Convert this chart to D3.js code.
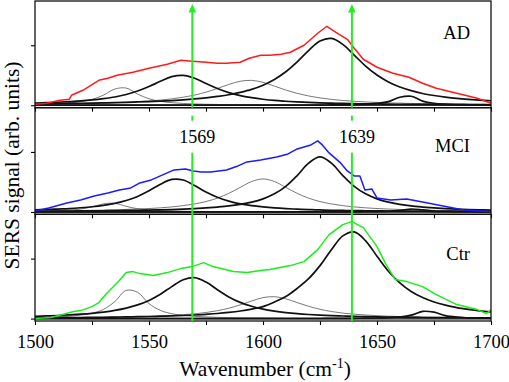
<!DOCTYPE html>
<html>
<head>
<meta charset="utf-8">
<script src="https://cdn.jsdelivr.net/npm/d3@7"></script>
<style>
  body { margin: 0; background: #fff; }
  svg { display: block; }
  text { font-family: "Liberation Serif", "Times New Roman", serif; fill: #000; }
</style>
</head>
<body>
<svg id="chart" width="509" height="382"></svg>
<script>
// x grid used by the fitted components (cm-1)
const waveGrid = [1500, 1505, 1510, 1515, 1520, 1525, 1530, 1535, 1540, 1545, 1550, 1555, 1560, 1565, 1570, 1575, 1580, 1585, 1590, 1595, 1600,
  1605, 1610, 1615, 1620, 1625, 1630, 1635, 1640, 1645, 1650, 1655, 1660, 1665, 1670, 1675, 1680, 1685, 1690, 1695, 1700];

// measured spectra
const adWave = [1500, 1505, 1511, 1515, 1516, 1521, 1528, 1532, 1536, 1543, 1550, 1558, 1564, 1569, 1575, 1580, 1584, 1590, 1594, 1599,
  1603, 1608, 1612, 1618, 1620, 1624, 1628, 1632, 1637, 1640, 1644, 1650, 1657, 1664, 1670, 1676, 1685, 1694, 1700];
const adSignal = [1, 2, 5, 6, 10, 15, 25, 27, 30, 33, 37, 41, 45, 44, 43, 42, 42, 43, 47, 50,
  50, 51, 53, 60, 64, 72, 79, 73, 66, 57, 46, 38, 32, 28, 22, 17, 12, 7, 2];

const mciWave = [1500, 1506, 1514, 1520, 1526, 1532, 1537, 1542, 1546, 1551, 1555, 1561, 1566, 1569.5, 1573, 1577, 1584, 1589, 1593, 1599,
  1606, 1611, 1615, 1621, 1624, 1626, 1629, 1634, 1637, 1640, 1642.5, 1644.7, 1647.7, 1650, 1656, 1663, 1670, 1679, 1688, 1700];
const mciSignal = [1, 4, 9, 12, 16, 19, 22, 24, 29, 32, 36, 42, 43, 41, 40, 40, 42, 46, 50, 52,
  55, 58, 63, 67, 71, 67, 59, 49, 41, 36, 36, 22, 23, 14, 12, 13, 10, 6, 2, 0.5];

const ctrWave = [1500, 1507, 1512, 1517, 1520, 1525, 1528, 1531, 1534, 1537, 1540, 1543, 1546, 1552, 1558, 1564, 1569, 1574, 1578, 1587,
  1593, 1599, 1603, 1612, 1618, 1624, 1629, 1635, 1639, 1644, 1650, 1654, 1658, 1663, 1670, 1676, 1685, 1694, 1698, 1700];
const ctrSignal = [0, 1, 4, 7, 8, 12, 16, 24, 31, 38, 46, 47, 45, 43, 46, 50, 52, 56, 52, 47,
  46, 48, 49, 53, 57, 69, 84, 94, 97, 91, 72, 54, 39, 37, 32, 24, 14, 9, 5, 9];

// fitted bands, sampled on waveGrid
const adFit1538 = [1.0, 1.2, 1.7, 2.4, 3.6, 5.8, 10.1, 16.2, 17.2, 11.2, 6.5, 3.9, 2.6, 1.8, 1.3, 1.0, 0.8, 0.6, 0.5, 0.4, 0.4,
  0.3, 0.3, 0.2, 0.2, 0.2, 0.2, 0.2, 0.1, 0.1, 0.1, 0.1, 0.1, 0.1, 0.1, 0.1, 0.1, 0.1, 0.1, 0.1, 0.1];
const adFit1564 = [2.2, 2.6, 3.0, 3.6, 4.3, 5.3, 6.6, 8.3, 10.8, 14.2, 18.7, 24.0, 28.6, 29.9, 27.0, 21.8, 16.8, 12.7, 9.7, 7.6, 6.0,
  4.8, 4.0, 3.3, 2.8, 2.4, 2.1, 1.8, 1.6, 1.4, 1.3, 1.1, 1.0, 0.9, 0.8, 0.8, 0.7, 0.6, 0.6, 0.6, 0.5];
const adFit1594 = [1.1, 1.2, 1.3, 1.5, 1.7, 1.9, 2.2, 2.6, 3.0, 3.6, 4.3, 5.2, 6.4, 8.1, 10.2, 13.1, 16.8, 20.8, 24.0, 24.9, 22.9,
  19.2, 15.2, 11.9, 9.3, 7.3, 5.9, 4.8, 4.0, 3.3, 2.8, 2.4, 2.1, 1.8, 1.6, 1.4, 1.3, 1.2, 1.0, 0.9, 0.9];
const adFit1629 = [1.4, 1.5, 1.7, 1.8, 2.0, 2.2, 2.4, 2.6, 2.9, 3.3, 3.7, 4.1, 4.7, 5.4, 6.3, 7.4, 8.8, 10.5, 12.9, 15.9, 20.1,
  25.8, 33.5, 43.4, 54.7, 64.2, 66.8, 60.9, 50.2, 39.2, 30.2, 23.3, 18.3, 14.6, 11.8, 9.8, 8.2, 6.9, 5.9, 5.1, 4.5];
const adFit1663 = [0.1, 0.1, 0.1, 0.1, 0.1, 0.1, 0.1, 0.1, 0.1, 0.1, 0.1, 0.1, 0.1, 0.1, 0.1, 0.1, 0.1, 0.1, 0.1, 0.1, 0.1,
  0.1, 0.1, 0.2, 0.2, 0.2, 0.3, 0.4, 0.6, 1.0, 1.8, 3.6, 8.0, 9.0, 4.2, 2.0, 1.1, 0.7, 0.5, 0.3, 0.3];

const mciFit1533 = [0.6, 0.8, 1.2, 1.8, 2.9, 5.0, 8.1, 8.6, 5.6, 3.2, 2.0, 1.3, 0.9, 0.7, 0.5, 0.4, 0.3, 0.3, 0.2, 0.2, 0.2,
  0.1, 0.1, 0.1, 0.1, 0.1, 0.1, 0.1, 0.1, 0.1, 0.1, 0.1, 0.1, 0.1, 0.1, 0.1, 0.1, 0.1, 0.1, 0.1, 0.1];
const mciFit1562 = [2.1, 2.4, 2.9, 3.4, 4.2, 5.2, 6.6, 8.6, 11.4, 15.5, 21.1, 27.7, 32.5, 31.9, 26.4, 19.9, 14.6, 10.8, 8.1, 6.3, 5.0,
  4.0, 3.3, 2.8, 2.3, 2.0, 1.7, 1.5, 1.3, 1.2, 1.1, 0.9, 0.9, 0.8, 0.7, 0.6, 0.6, 0.5, 0.5, 0.5, 0.4];
const mciFit1600 = [0.9, 1.0, 1.1, 1.3, 1.4, 1.6, 1.8, 2.1, 2.5, 2.9, 3.4, 4.1, 5.0, 6.3, 8.0, 10.4, 13.8, 18.6, 24.5, 30.4, 33.0,
  30.4, 24.5, 18.6, 13.8, 10.4, 8.0, 6.3, 5.0, 4.1, 3.4, 2.9, 2.5, 2.1, 1.8, 1.6, 1.4, 1.3, 1.1, 1.0, 0.9];
const mciFit1625 = [0.7, 0.7, 0.8, 0.9, 1.0, 1.1, 1.2, 1.3, 1.5, 1.6, 1.9, 2.1, 2.4, 2.8, 3.3, 4.0, 4.9, 6.0, 7.6, 9.8, 13.1,
  18.1, 25.6, 36.4, 48.8, 55.0, 48.8, 36.4, 25.6, 18.1, 13.1, 9.8, 7.6, 6.0, 4.9, 4.0, 3.3, 2.8, 2.4, 2.1, 1.9];
const mciFit1666 = [0.1, 0.1, 0.1, 0.1, 0.1, 0.1, 0.1, 0.1, 0.1, 0.1, 0.1, 0.1, 0.1, 0.1, 0.1, 0.1, 0.1, 0.1, 0.1, 0.1, 0.1,
  0.1, 0.1, 0.1, 0.1, 0.1, 0.1, 0.1, 0.1, 0.2, 0.4, 0.7, 1.5, 2.9, 2.1, 0.9, 0.5, 0.3, 0.2, 0.1, 0.1];

const ctrFit1542 = [1.1, 1.3, 1.8, 2.4, 3.5, 5.4, 9.2, 17.0, 28.2, 26.3, 15.0, 8.2, 4.9, 3.2, 2.3, 1.7, 1.3, 1.0, 0.8, 0.7, 0.6,
  0.5, 0.4, 0.4, 0.3, 0.3, 0.2, 0.2, 0.2, 0.2, 0.1, 0.1, 0.1, 0.1, 0.1, 0.1, 0.1, 0.1, 0.1, 0.1, 0.1];
const ctrFit1569 = [2.3, 2.7, 3.1, 3.7, 4.4, 5.3, 6.5, 8.2, 10.5, 13.7, 18.2, 24.4, 32.0, 38.8, 40.9, 36.5, 28.9, 21.7, 16.2, 12.3, 9.5,
  7.5, 6.0, 4.9, 4.1, 3.5, 3.0, 2.6, 2.2, 2.0, 1.7, 1.5, 1.4, 1.2, 1.1, 1.0, 0.9, 0.9, 0.8, 0.7, 0.7];
const ctrFit1604 = [0.6, 0.7, 0.8, 0.9, 1.0, 1.1, 1.2, 1.4, 1.6, 1.9, 2.2, 2.6, 3.2, 3.9, 4.8, 6.1, 7.9, 10.4, 13.7, 17.6, 21.0,
  21.9, 19.8, 16.0, 12.3, 9.3, 7.1, 5.5, 4.4, 3.6, 2.9, 2.4, 2.1, 1.8, 1.5, 1.3, 1.2, 1.0, 0.9, 0.8, 0.7];
const ctrFit1639 = [0.7, 0.8, 0.9, 1.0, 1.1, 1.2, 1.3, 1.5, 1.7, 1.9, 2.1, 2.4, 2.7, 3.1, 3.6, 4.3, 5.1, 6.2, 7.6, 9.5, 12.0,
  16.5, 22.0, 30.2, 39.9, 53.0, 68.8, 82.7, 86.7, 77.8, 62.4, 47.4, 35.7, 27.1, 21.0, 16.6, 13.4, 11.0, 9.2, 7.7, 6.6];
const ctrFit1672 = [0.1, 0.1, 0.1, 0.1, 0.1, 0.1, 0.1, 0.1, 0.1, 0.1, 0.1, 0.1, 0.1, 0.1, 0.1, 0.1, 0.1, 0.1, 0.1, 0.1, 0.1,
  0.1, 0.1, 0.1, 0.1, 0.1, 0.2, 0.2, 0.3, 0.4, 0.6, 0.9, 1.6, 3.4, 7.2, 6.4, 2.9, 1.4, 0.8, 0.5, 0.4];

const sampleNames = ["AD", "MCI", "Ctr"];
const markerWaves = [1569, 1639];
const xTicks = [1500, 1525, 1550, 1575, 1600, 1625, 1650, 1675, 1700];
const xTickLabels = ["1500", "", "1550", "", "1600", "", "1650", "", "1700"];
const yTicks = [0, 60];

// panels (top to bottom); "thick" marks the heavier fitted bands
const panels = [
  { name: sampleNames[0], color: "#ff1a1a", wave: adWave, signal: adSignal, labelDy: 38,
    fits: [[adFit1538, false], [adFit1594, false], [adFit1564, true], [adFit1629, true], [adFit1663, true]] },
  { name: sampleNames[1], color: "#1a1aff", wave: mciWave, signal: mciSignal, labelDy: 44.5,
    fits: [[mciFit1533, false], [mciFit1600, false], [mciFit1562, true], [mciFit1625, true], [mciFit1666, true]] },
  { name: sampleNames[2], color: "#1aee1a", wave: ctrWave, signal: ctrSignal, labelDy: 46,
    fits: [[ctrFit1542, false], [ctrFit1604, false], [ctrFit1569, true], [ctrFit1639, true], [ctrFit1672, true]] }
];

const svg = d3.select("#chart");
const plotLeft = 35, plotRight = 491, plotTop = 1, plotBottom = 321;
const panelH = (plotBottom - plotTop) / panels.length;
const green = "#22ee22";

const x = d3.scaleLinear().domain([1500, 1700]).range([plotLeft, plotRight]);

panels.forEach((p, i) => {
  const pTop = plotTop + i * panelH, pBottom = pTop + panelH;
  const y = d3.scaleLinear().domain([-2.4, panelH - 2.4]).range([pBottom, pTop]);
  const g = svg.append("g");

  g.append("clipPath").attr("id", "clip" + i)
    .append("rect").attr("x", plotLeft).attr("y", pTop).attr("width", plotRight - plotLeft).attr("height", panelH);
  const plot = g.append("g").attr("clip-path", `url(#clip${i})`);

  const fitLine = d3.line()
    .x((d, j) => x(waveGrid[j]))
    .y(d => y(d))
    .curve(d3.curveCatmullRom.alpha(0.5));

  // zero line
  plot.append("line")
    .attr("x1", x(1500)).attr("x2", x(1700))
    .attr("y1", y(0)).attr("y2", y(0))
    .attr("stroke", "#111").attr("stroke-width", 1.6);

  p.fits.filter(f => !f[1]).forEach(f => {
    plot.append("path").attr("d", fitLine(f[0]))
      .attr("fill", "none").attr("stroke", "#555").attr("stroke-width", 0.8);
  });
  p.fits.filter(f => f[1]).forEach(f => {
    plot.append("path").attr("d", fitLine(f[0]))
      .attr("fill", "none").attr("stroke", "#111").attr("stroke-width", 1.7);
  });

  const specLine = d3.line()
    .x((d, j) => x(p.wave[j]))
    .y(d => y(d));
  plot.append("path").attr("d", specLine(p.signal))
    .attr("fill", "none").attr("stroke", p.color).attr("stroke-width", 1.5)
    .attr("stroke-linejoin", "round");

  // axes
  const xAxis = d3.axisBottom(x).tickValues(xTicks).tickSize(4)
    .tickFormat((d, k) => i === panels.length - 1 ? xTickLabels[k] : "")
    .tickPadding(10);
  const ax = g.append("g").attr("transform", `translate(0,${pBottom})`).call(xAxis);
  ax.select(".domain").remove();
  ax.selectAll("text").attr("font-size", "18.5px")
    .style("font-family", "'Liberation Serif', serif");

  const yAxis = d3.axisLeft(y).tickValues(yTicks).tickSize(4).tickFormat("");
  const ay = g.append("g").attr("transform", `translate(${plotLeft},0)`).call(yAxis);
  ay.select(".domain").remove();
  g.selectAll(".tick line").attr("stroke", "#000").attr("stroke-width", 1.1);

  g.append("rect")
    .attr("x", plotLeft).attr("y", pTop).attr("width", plotRight - plotLeft).attr("height", panelH)
    .attr("fill", "none").attr("stroke", "#111").attr("stroke-width", 1.3);

  g.append("text")
    .attr("x", 470).attr("y", pTop + p.labelDy)
    .attr("text-anchor", "end").attr("font-size", "18.5px")
    .text(p.name);
});

// marker lines with arrows
const gapTop = plotTop + panelH + 1, gapBottom = plotTop + panelH + 45;
markerWaves.forEach(w => {
  const xm = x(w);
  const segs = [[12, plotTop + panelH], [gapTop + 7, gapTop + 12], [gapBottom, plotBottom]];
  segs.forEach(s => {
    svg.append("line")
      .attr("x1", xm).attr("x2", xm).attr("y1", s[0]).attr("y2", s[1])
      .attr("stroke", green).attr("stroke-width", 2);
  });
  svg.append("path")
    .attr("d", `M${xm - 3.8},12.5L${xm},4L${xm + 3.8},12.5Z`)
    .attr("fill", green);
  svg.append("text")
    .attr("x", xm + 5).attr("y", 143)
    .attr("text-anchor", "middle").attr("font-size", "18px")
    .text(w);
});

// axis titles
const xt = svg.append("text")
  .attr("x", 265).attr("y", 376)
  .attr("text-anchor", "middle").attr("font-size", "21.5px");
xt.append("tspan").text("Wavenumber (cm");
xt.append("tspan").attr("font-size", "14px").attr("dy", -8).text("-1");
xt.append("tspan").attr("dy", 8).text(")");

svg.append("text")
  .attr("transform", "translate(19,165.5) rotate(-90)")
  .attr("text-anchor", "middle").attr("font-size", "21.5px")
  .text("SERS signal (arb. units)");
</script>
</body>
</html>
